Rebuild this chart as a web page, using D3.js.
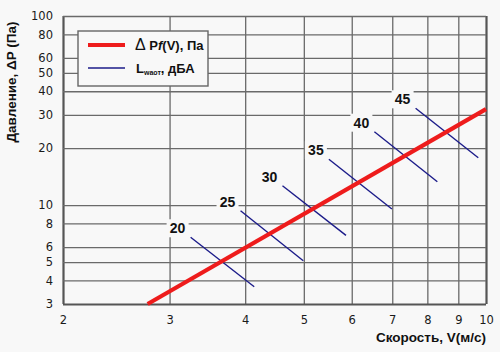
<!DOCTYPE html>
<html>
<head>
<meta charset="utf-8">
<script src="https://cdn.jsdelivr.net/npm/d3@7"></script>
<style>
  body { margin: 0; background: #f8f8f8; }
  svg { display: block; font-family: "Open Sans", sans-serif; }
</style>
</head>
<body>
<div id="chart"></div>
<script>
// тики осей
var xTicks = [2, 3, 4, 5, 6, 7, 8, 9, 10];
var yTicks = [3, 4, 5, 6, 8, 10, 20, 30, 40, 50, 60, 80, 100];

// ΔP = f(V)
var pressureV = [2.76, 10];
var pressureP = [3, 32.2];

// линии уровня шума, дБА
var noiseLevels = [20, 25, 30, 35, 40, 45];
var noiseStartV = [3.25, 3.93, 4.61, 5.50, 6.54, 7.65];
var noiseStartP = [6.76, 9.34, 12.67, 17.47, 24.45, 32.5];
var noiseEndV = [4.14, 4.99, 5.87, 6.99, 8.31, 9.71];
var noiseEndP = [3.70, 5.08, 6.92, 9.54, 13.30, 17.8];

var outwidth = 500, outheight = 352;
var margin = { left: 63, top: 16, right: 14, bottom: 48 };
var width = outwidth - margin.left - margin.right;
var height = outheight - margin.top - margin.bottom;
var bg = "#f8f8f8";

var svg = d3.select("#chart").append("svg")
    .attr("width", outwidth)
    .attr("height", outheight);

svg.append("rect")
    .attr("width", outwidth)
    .attr("height", outheight)
    .attr("fill", bg);

var g = svg.append("g")
    .attr("transform", `translate(${margin.left},${margin.top})`);

var x = d3.scaleLog().domain([2, 10]).range([0, width]);
var y = d3.scaleLog().domain([3, 100]).range([height, 0]);

// сетка и оси
var xAxis = g.append("g")
    .attr("transform", `translate(0,${height})`)
    .call(d3.axisBottom(x).tickValues(xTicks).tickFormat(d3.format("d"))
        .tickSizeInner(-height).tickSizeOuter(0).tickPadding(12));
var yAxis = g.append("g")
    .call(d3.axisLeft(y).tickValues(yTicks).tickFormat(d3.format("d"))
        .tickSizeInner(-width).tickSizeOuter(0).tickPadding(10));

[xAxis, yAxis].forEach(function (a) {
    a.select(".domain").remove();
    a.selectAll(".tick line")
        .attr("stroke", "#6a6a6a")
        .attr("stroke-width", 1.3);
    a.selectAll(".tick text")
        .attr("fill", "#1a1a1a")
        .style("font-size", "11.5px")
        .style("font-family", "DejaVu Sans, sans-serif");
});
xAxis.selectAll(".tick line")
    .filter(d => d === 2 || d === 10)
    .attr("stroke", "#555").attr("stroke-width", 2.2);
yAxis.selectAll(".tick line")
    .filter(d => d === 3)
    .attr("stroke", "#555").attr("stroke-width", 2.2);

var noise = noiseLevels.map(function (d, i) {
    return {
        level: d,
        x1: noiseStartV[i], y1: noiseStartP[i],
        x2: noiseEndV[i], y2: noiseEndP[i]
    };
});

g.selectAll(".noise-line")
    .data(noise)
    .join("line")
    .attr("class", "noise-line")
    .attr("x1", d => x(d.x1))
    .attr("y1", d => y(d.y1))
    .attr("x2", d => x(d.x2))
    .attr("y2", d => y(d.y2))
    .attr("stroke", "#1c1c8a")
    .attr("stroke-width", 1.4);

var line = d3.line()
    .x(d => x(d[0]))
    .y(d => y(d[1]));
g.append("path")
    .datum(pressureV.map((v, i) => [v, pressureP[i]]))
    .attr("d", line)
    .attr("fill", "none")
    .attr("stroke", "#ee1c1c")
    .attr("stroke-width", 4.2);

// подписи уровней
var labels = g.selectAll(".noise-label")
    .data(noise)
    .join("g")
    .attr("class", "noise-label")
    .attr("transform", d => `translate(${x(d.x1) - 13},${y(d.y1) - 9})`);
labels.append("rect")
    .attr("x", -11).attr("y", -9)
    .attr("width", 22).attr("height", 18)
    .attr("fill", bg);
labels.append("text")
    .attr("text-anchor", "middle")
    .attr("dy", "0.36em")
    .style("font-family", "Liberation Sans, Arial, sans-serif")
    .style("font-weight", "bold")
    .style("font-size", "14px")
    .attr("fill", "#111")
    .text(d => d.level);

// легенда
var legend = svg.append("g").attr("transform", "translate(78,31)");
legend.append("rect")
    .attr("width", 130).attr("height", 55)
    .attr("fill", bg)
    .attr("stroke", "#666")
    .attr("stroke-width", 1.4);
legend.append("line")
    .attr("x1", 10).attr("x2", 47).attr("y1", 14).attr("y2", 14)
    .attr("stroke", "#ee1c1c").attr("stroke-width", 4);
legend.append("line")
    .attr("x1", 10).attr("x2", 47).attr("y1", 37).attr("y2", 37)
    .attr("stroke", "#1c1c8a").attr("stroke-width", 1.4);

var t1 = legend.append("text")
    .attr("x", 57).attr("y", 19)
    .style("font-family", "Liberation Sans, Arial, sans-serif")
    .style("font-size", "13px")
    .attr("fill", "#111");
t1.append("tspan").text("Δ").style("font-size", "16px");
t1.append("tspan").text(" P").style("font-weight", "bold");
t1.append("tspan").text("f").style("font-weight", "bold").style("font-style", "italic");
t1.append("tspan").text("(V), Па").style("font-weight", "bold");

var t2 = legend.append("text")
    .attr("x", 58).attr("y", 42)
    .style("font-family", "Liberation Sans, Arial, sans-serif")
    .style("font-size", "13px")
    .style("font-weight", "bold")
    .attr("fill", "#111");
t2.append("tspan").text("L");
t2.append("tspan").text("waот").style("font-size", "7px").attr("dy", 2);
t2.append("tspan").text(", дБА").attr("dy", -2);

// подписи осей
svg.append("text")
    .attr("transform", "translate(16,82) rotate(-90)")
    .attr("text-anchor", "middle")
    .style("font-family", "Liberation Sans, Arial, sans-serif")
    .style("font-size", "13.5px")
    .style("font-weight", "bold")
    .attr("fill", "#111")
    .text("Давление, ΔP (Па)");

svg.append("text")
    .attr("x", 486).attr("y", 342)
    .attr("text-anchor", "end")
    .style("font-family", "Liberation Sans, Arial, sans-serif")
    .style("font-size", "13.5px")
    .style("font-weight", "bold")
    .attr("fill", "#111")
    .text("Скорость, V(м/с)");
</script>
</body>
</html>
